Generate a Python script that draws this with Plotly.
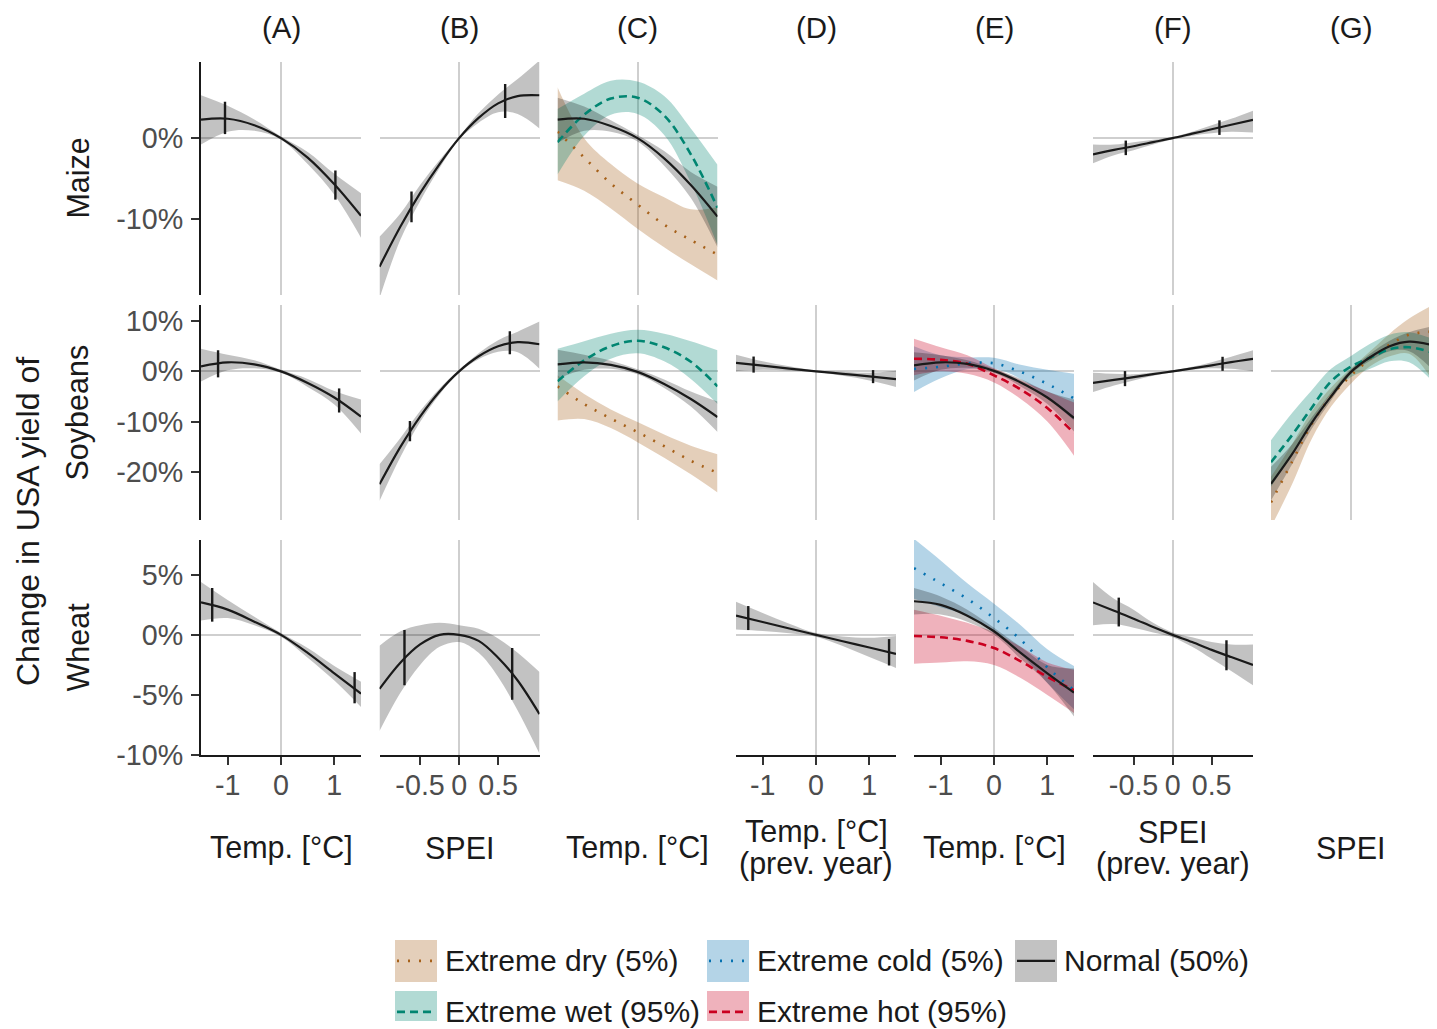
import plotly.graph_objects as go

# page: body keeps its default 8px margin; the captured page is 1437 wide and
# 1045 tall (rendered into a 1029-tall picture), so vertical page coords are scaled.
PAGE_OFF = 8
YS = 1045.0 / 1029.0
W, H = 1421, 1029

# ---------------- data ----------------
TEMP_X = [-1.5, -1.0, -0.5, 0.0, 0.5, 1.0, 1.5]
SPEI_X = [-1.02, -0.75, -0.5, -0.25, 0.0, 0.25, 0.5, 0.75, 1.03]

col_strip = ["(A)", "(B)", "(C)", "(D)", "(E)", "(F)", "(G)"]
col_titles = [["Temp. [°C]"], ["SPEI"], ["Temp. [°C]"], ["Temp. [°C]", "(prev. year)"],
              ["Temp. [°C]"], ["SPEI", "(prev. year)"], ["SPEI"]]
col_kind = ["temp", "spei", "temp", "temp", "temp", "spei", "spei"]
row_labels = ["Maize", "Soybeans", "Wheat"]

y_ranges = [[-19.4, 9.4], [-29.6, 13.2], [-10.0, 7.9]]
y_tickvals = [[0, -10], [10, 0, -10, -20], [5, 0, -5, -10]]
y_ticktext = [["0%", "-10%"], ["10%", "0%", "-10%", "-20%"], ["5%", "0%", "-5%", "-10%"]]
temp_range = [-1.5, 1.5]
spei_range = [-1.02, 1.03]
temp_ticks = [-1, 0, 1]
temp_ticktext = ["-1", "0", "1"]
spei_ticks = [-0.5, 0, 0.5]
spei_ticktext = ["-0.5", "0", "0.5"]

legend_labels = ["Extreme dry (5%)", "Extreme cold (5%)", "Normal (50%)",
                 "Extreme wet (95%)", "Extreme hot (95%)"]
legend_keys = ["dry", "cold", "normal", "wet", "hot"]

# Maize
maize_A_normal = [2.3, 2.4, 1.6, 0.0, -2.4, -5.7, -9.6]
maize_A_lo = [-0.8, 0.8, 0.9, -0.2, -3.2, -7.0, -12.3]
maize_A_hi = [5.3, 4.0, 2.3, 0.2, -1.7, -4.4, -6.8]
maize_A_mark_x = [-1.05, 1.02]
maize_A_mark_y = [2.5, -5.8]
maize_A_mark_e = [2.0, 1.8]

maize_B_normal = [-15.9, -10.9, -6.8, -3.2, 0.0, 2.5, 4.3, 5.2, 5.3]
maize_B_lo = [-19.8, -12.5, -7.8, -3.7, -0.2, 1.9, 3.2, 3.0, 1.2]
maize_B_hi = [-12.2, -9.3, -5.8, -2.7, 0.2, 3.1, 5.4, 7.3, 9.6]
maize_B_mark_x = [-0.61, 0.59]
maize_B_mark_y = [-8.5, 4.6]
maize_B_mark_e = [1.9, 2.1]

maize_C_normal = [2.3, 2.4, 1.5, 0.0, -2.5, -5.8, -9.7]
maize_C_normal_lo = [-0.6, 0.9, 0.8, -0.4, -3.4, -7.4, -13.5]
maize_C_normal_hi = [5.0, 3.9, 2.2, 0.4, -1.6, -4.2, -6.0]
maize_C_wet = [-0.5, 2.9, 4.9, 5.0, 2.8, -2.0, -8.6]
maize_C_wet_lo = [-4.5, 0.3, 2.9, 3.0, 0.4, -5.5, -13.2]
maize_C_wet_hi = [3.6, 5.5, 7.1, 7.0, 5.2, 1.2, -3.3]
maize_C_dry = [0.8, -2.4, -5.6, -8.2, -10.7, -12.6, -14.4]
maize_C_dry_lo = [-5.2, -6.5, -8.7, -11.2, -13.5, -15.6, -17.6]
maize_C_dry_hi = [6.3, 0.0, -3.2, -5.6, -7.3, -8.8, -8.5]

maize_F_normal = [-2.0, -1.45, -1.0, -0.5, 0.0, 0.55, 1.1, 1.65, 2.25]
maize_F_lo = [-3.1, -2.1, -1.5, -0.8, -0.15, 0.3, 0.6, 0.8, 0.7]
maize_F_hi = [-0.8, -0.8, -0.5, -0.2, 0.15, 0.8, 1.6, 2.4, 3.4]
maize_F_mark_x = [-0.60, 0.60]
maize_F_mark_y = [-1.2, 1.3]
maize_F_mark_e = [0.9, 0.9]

# Soybeans
soy_A_normal = [1.0, 1.8, 1.4, 0.0, -2.3, -5.2, -9.0]
soy_A_lo = [-2.0, 0.2, 0.6, -0.3, -3.1, -6.6, -12.4]
soy_A_hi = [4.5, 3.3, 2.2, 0.3, -1.5, -3.9, -5.6]
soy_A_mark_x = [-1.18, 1.09]
soy_A_mark_y = [1.5, -5.8]
soy_A_mark_e = [2.7, 2.4]

soy_B_normal = [-22.5, -15.0, -9.0, -4.0, 0.0, 3.0, 5.0, 5.8, 5.4]
soy_B_lo = [-25.8, -17.0, -10.1, -4.6, -0.3, 2.4, 3.9, 3.8, 0.5]
soy_B_hi = [-18.5, -13.2, -7.9, -3.4, 0.3, 3.6, 6.2, 7.9, 9.9]
soy_B_mark_x = [-0.63, 0.65]
soy_B_mark_y = [-11.9, 5.7]
soy_B_mark_e = [2.0, 2.3]

soy_C_normal = [1.4, 1.8, 1.3, -0.1, -2.5, -5.5, -9.1]
soy_C_normal_lo = [-1.5, 0.3, 0.5, -0.6, -3.3, -7.0, -12.1]
soy_C_normal_hi = [4.3, 3.3, 2.1, 0.4, -1.6, -4.0, -6.0]
soy_C_wet = [-2.0, 2.2, 5.0, 6.1, 4.8, 1.9, -3.0]
soy_C_wet_lo = [-6.0, -1.0, 2.5, 3.6, 2.0, -1.5, -6.5]
soy_C_wet_hi = [4.5, 6.0, 7.5, 8.3, 7.5, 6.0, 4.2]
soy_C_dry = [-3.0, -6.5, -9.4, -12.1, -14.9, -17.8, -20.2]
soy_C_dry_lo = [-9.8, -9.5, -11.3, -14.1, -17.2, -20.5, -24.1]
soy_C_dry_hi = [-0.8, -4.5, -7.6, -10.1, -12.6, -14.8, -16.5]

soy_D_normal = [1.7, 1.15, 0.55, 0.0, -0.5, -1.0, -1.55]
soy_D_lo = [0.0, 0.3, 0.1, -0.15, -0.9, -1.8, -3.1]
soy_D_hi = [3.3, 2.0, 1.0, 0.15, -0.1, -0.3, 0.1]
soy_D_mark_x = [-1.17, 1.07]
soy_D_mark_y = [1.35, -1.05]
soy_D_mark_e = [1.6, 1.3]

soy_E_normal = [1.2, 1.8, 1.5, 0.1, -2.2, -5.2, -9.3]
soy_E_normal_lo = [-1.8, 0.3, 0.7, -0.3, -3.0, -6.5, -12.0]
soy_E_normal_hi = [3.8, 3.2, 2.2, 0.5, -1.5, -4.0, -5.6]
soy_E_cold = [0.5, 0.9, 1.6, 1.6, -0.1, -2.5, -5.4]
soy_E_cold_lo = [-4.1, -1.4, 0.4, 0.5, -1.5, -5.3, -9.8]
soy_E_cold_hi = [5.0, 3.2, 2.8, 2.7, 1.3, 0.3, -0.5]
soy_E_hot = [2.5, 2.3, 1.5, -0.8, -3.6, -7.3, -12.3]
soy_E_hot_lo = [-0.8, 0.0, -0.5, -2.2, -5.5, -10.0, -16.8]
soy_E_hot_hi = [6.5, 4.8, 3.2, 0.6, -1.8, -4.0, -6.2]

soy_F_normal = [-2.3, -1.7, -1.15, -0.55, 0.0, 0.6, 1.2, 1.85, 2.5]
soy_F_lo = [-4.1, -2.8, -1.8, -0.9, -0.2, 0.3, 0.6, 0.5, 0.0]
soy_F_hi = [-0.3, -0.5, -0.6, -0.25, 0.2, 0.9, 1.8, 2.9, 4.2]
soy_F_mark_x = [-0.61, 0.64]
soy_F_mark_y = [-1.45, 1.5]
soy_F_mark_e = [1.5, 1.4]

soy_G_normal = [-22.4, -16.5, -10.3, -5.0, -0.2, 2.8, 5.0, 5.9, 5.3]
soy_G_normal_lo = [-25.7, -18.5, -11.5, -5.8, -0.6, 2.1, 4.0, 4.0, 0.6]
soy_G_normal_hi = [-19.0, -14.5, -9.2, -4.2, 0.3, 3.5, 6.1, 7.8, 8.9]
soy_G_wet = [-18.1, -12.7, -7.3, -2.0, 0.9, 2.7, 4.4, 4.8, 3.8]
soy_G_wet_lo = [-23.0, -16.5, -10.2, -4.5, -1.2, 0.5, 2.0, 1.8, -1.7]
soy_G_wet_hi = [-13.7, -8.3, -3.8, 0.5, 3.0, 5.5, 7.3, 7.8, 6.6]
soy_G_dry = [-26.1, -18.0, -10.5, -5.0, -0.9, 2.5, 5.3, 7.3, 7.9]
soy_G_dry_lo = [-31.0, -22.5, -13.5, -7.0, -2.5, 1.0, 3.0, 3.5, -1.4]
soy_G_dry_hi = [-21.0, -14.5, -8.0, -3.2, 0.5, 4.0, 7.5, 10.5, 13.0]

# Wheat
wheat_A_normal = [2.7, 2.1, 1.1, 0.0, -1.5, -3.2, -4.9]
wheat_A_lo = [1.2, 1.4, 0.8, -0.15, -1.9, -3.8, -6.0]
wheat_A_hi = [4.4, 2.9, 1.5, 0.15, -1.1, -2.6, -3.9]
wheat_A_mark_x = [-1.29, 1.38]
wheat_A_mark_y = [2.5, -4.4]
wheat_A_mark_e = [1.4, 1.3]

wheat_B_normal = [-4.5, -2.3, -0.8, 0.0, 0.0, -0.5, -1.9, -3.8, -6.6]
wheat_B_lo = [-8.0, -4.8, -2.5, -1.0, -0.6, -1.5, -3.5, -6.3, -9.9]
wheat_B_hi = [-0.9, 0.3, 0.8, 1.0, 0.8, 0.5, -0.3, -1.5, -3.1]
wheat_B_mark_x = [-0.70, 0.68]
wheat_B_mark_y = [-1.9, -3.25]
wheat_B_mark_e = [2.3, 2.15]

wheat_D_normal = [1.6, 1.07, 0.53, 0.0, -0.53, -1.05, -1.58]
wheat_D_lo = [0.45, 0.32, 0.13, -0.15, -0.93, -1.85, -2.75]
wheat_D_hi = [2.75, 1.82, 0.93, 0.15, -0.13, -0.25, -0.1]
wheat_D_mark_x = [-1.27, 1.37]
wheat_D_mark_y = [1.4, -1.45]
wheat_D_mark_e = [1.0, 1.1]

wheat_E_normal = [2.8, 2.5, 1.6, 0.3, -1.5, -3.2, -4.8]
wheat_E_normal_lo = [1.7, 1.7, 1.1, 0.0, -2.0, -4.0, -6.8]
wheat_E_normal_hi = [3.9, 3.2, 2.1, 0.6, -1.0, -2.5, -2.8]
wheat_E_cold = [5.55, 4.3, 3.0, 1.4, -0.4, -2.7, -4.6]
wheat_E_cold_lo = [3.0, 2.3, 1.6, 0.2, -1.6, -4.0, -6.2]
wheat_E_cold_hi = [8.0, 6.2, 4.3, 2.6, 0.8, -1.2, -2.6]
wheat_E_hot = [-0.1, -0.2, -0.5, -1.1, -2.2, -3.5, -4.6]
wheat_E_hot_lo = [-2.4, -2.3, -2.2, -2.5, -3.6, -5.0, -6.5]
wheat_E_hot_hi = [2.1, 1.6, 1.0, 0.2, -1.0, -2.3, -2.9]

wheat_F_normal = [2.7, 2.0, 1.35, 0.65, 0.0, -0.6, -1.25, -1.85, -2.5]
wheat_F_lo = [0.8, 0.9, 0.6, 0.2, -0.2, -1.0, -2.0, -3.0, -4.2]
wheat_F_hi = [4.4, 3.0, 2.1, 1.0, 0.2, -0.2, -0.6, -0.8, -0.8]
wheat_F_mark_x = [-0.69, 0.69]
wheat_F_mark_y = [1.9, -1.7]
wheat_F_mark_e = [1.2, 1.25]

# ---------------- styles ----------------
STYLE = {
    "normal": dict(color="#1a1a1a", dash="solid", fill="rgba(0,0,0,0.24)", width=2.2),
    "dry": dict(color="#a6611a", dash="2px,9px", fill="rgba(166,97,26,0.30)", width=2.6),
    "wet": dict(color="#018571", dash="8px,5px", fill="rgba(1,133,113,0.30)", width=2.6),
    "cold": dict(color="#0571b0", dash="2px,9px", fill="rgba(5,113,176,0.30)", width=2.6),
    "hot": dict(color="#ca0020", dash="8px,5px", fill="rgba(202,0,32,0.30)", width=2.6),
}

PANELS = {
    (0, 0): [("normal", maize_A_normal, maize_A_lo, maize_A_hi)],
    (0, 1): [("normal", maize_B_normal, maize_B_lo, maize_B_hi)],
    (0, 2): [("dry", maize_C_dry, maize_C_dry_lo, maize_C_dry_hi),
             ("wet", maize_C_wet, maize_C_wet_lo, maize_C_wet_hi),
             ("normal", maize_C_normal, maize_C_normal_lo, maize_C_normal_hi)],
    (0, 5): [("normal", maize_F_normal, maize_F_lo, maize_F_hi)],
    (1, 0): [("normal", soy_A_normal, soy_A_lo, soy_A_hi)],
    (1, 1): [("normal", soy_B_normal, soy_B_lo, soy_B_hi)],
    (1, 2): [("dry", soy_C_dry, soy_C_dry_lo, soy_C_dry_hi),
             ("wet", soy_C_wet, soy_C_wet_lo, soy_C_wet_hi),
             ("normal", soy_C_normal, soy_C_normal_lo, soy_C_normal_hi)],
    (1, 3): [("normal", soy_D_normal, soy_D_lo, soy_D_hi)],
    (1, 4): [("cold", soy_E_cold, soy_E_cold_lo, soy_E_cold_hi),
             ("hot", soy_E_hot, soy_E_hot_lo, soy_E_hot_hi),
             ("normal", soy_E_normal, soy_E_normal_lo, soy_E_normal_hi)],
    (1, 5): [("normal", soy_F_normal, soy_F_lo, soy_F_hi)],
    (1, 6): [("dry", soy_G_dry, soy_G_dry_lo, soy_G_dry_hi),
             ("wet", soy_G_wet, soy_G_wet_lo, soy_G_wet_hi),
             ("normal", soy_G_normal, soy_G_normal_lo, soy_G_normal_hi)],
    (2, 0): [("normal", wheat_A_normal, wheat_A_lo, wheat_A_hi)],
    (2, 1): [("normal", wheat_B_normal, wheat_B_lo, wheat_B_hi)],
    (2, 3): [("normal", wheat_D_normal, wheat_D_lo, wheat_D_hi)],
    (2, 4): [("cold", wheat_E_cold, wheat_E_cold_lo, wheat_E_cold_hi),
             ("hot", wheat_E_hot, wheat_E_hot_lo, wheat_E_hot_hi),
             ("normal", wheat_E_normal, wheat_E_normal_lo, wheat_E_normal_hi)],
    (2, 5): [("normal", wheat_F_normal, wheat_F_lo, wheat_F_hi)],
}

MARKS = {
    (0, 0): (maize_A_mark_x, maize_A_mark_y, maize_A_mark_e),
    (0, 1): (maize_B_mark_x, maize_B_mark_y, maize_B_mark_e),
    (0, 5): (maize_F_mark_x, maize_F_mark_y, maize_F_mark_e),
    (1, 0): (soy_A_mark_x, soy_A_mark_y, soy_A_mark_e),
    (1, 1): (soy_B_mark_x, soy_B_mark_y, soy_B_mark_e),
    (1, 3): (soy_D_mark_x, soy_D_mark_y, soy_D_mark_e),
    (1, 5): (soy_F_mark_x, soy_F_mark_y, soy_F_mark_e),
    (2, 0): (wheat_A_mark_x, wheat_A_mark_y, wheat_A_mark_e),
    (2, 1): (wheat_B_mark_x, wheat_B_mark_y, wheat_B_mark_e),
    (2, 3): (wheat_D_mark_x, wheat_D_mark_y, wheat_D_mark_e),
    (2, 5): (wheat_F_mark_x, wheat_F_mark_y, wheat_F_mark_e),
}

# ---------------- layout geometry (picture pixels) ----------------
col_left = [201, 379.5, 557.5, 736, 914, 1093, 1271]
col_right = [361, 539.5, 717.5, 896, 1074, 1253, 1429]
row_box = [(62, 295), (305, 520), (540, 755)]

FONT = "Liberation Sans, Arial, sans-serif"
TICK_FONT = dict(family=FONT, size=28.7, color="#4d4d4d")
TXT = "#1a1a1a"


def px_x(p):
    return min(1.0, max(0.0, (p - PAGE_OFF) / W))


def px_y(p):
    return min(1.0, max(0.0, 1 - (p * YS - PAGE_OFF) / H))


fig = go.Figure()
layout = {}

for r in range(3):
    for c in range(7):
        k = r * 7 + c + 1
        xa = "x" if k == 1 else f"x{k}"
        ya = "y" if k == 1 else f"y{k}"
        kind = col_kind[c]
        xs = TEMP_X if kind == "temp" else SPEI_X
        top, bot = row_box[r]
        if kind == "temp":
            xr = temp_range
        else:
            xr = [spei_range[0], spei_range[0] + (spei_range[1] - spei_range[0]) *
                  (col_right[c] - col_left[c]) / 160.0]
        layout["xaxis" if k == 1 else f"xaxis{k}"] = dict(
            domain=[px_x(col_left[c]), px_x(col_right[c])],
            range=xr,
            anchor=ya, showgrid=False, zeroline=True, zerolinecolor="#cfcfcf", zerolinewidth=2,
            showline=(r == 2), linecolor="#1a1a1a", linewidth=2.2,
            ticks="outside" if r == 2 else "", ticklen=8, tickwidth=2, tickcolor="#333333",
            showticklabels=(r == 2),
            tickvals=temp_ticks if kind == "temp" else spei_ticks,
            ticktext=temp_ticktext if kind == "temp" else spei_ticktext,
            tickfont=TICK_FONT, ticklabelstandoff=-4, fixedrange=True,
        )
        layout["yaxis" if k == 1 else f"yaxis{k}"] = dict(
            domain=[px_y(bot), px_y(top)], range=y_ranges[r], anchor=xa,
            showgrid=False, zeroline=True, zerolinecolor="#cfcfcf", zerolinewidth=2,
            showline=(c == 0), linecolor="#1a1a1a", linewidth=2.2,
            ticks="outside" if c == 0 else "", ticklen=8, tickwidth=2, tickcolor="#333333",
            showticklabels=(c == 0), tickvals=y_tickvals[r], ticktext=y_ticktext[r],
            tickfont=TICK_FONT, ticklabelstandoff=2, fixedrange=True,
        )
        series = PANELS.get((r, c), [])
        for name, yv, lo, hi in series:
            st = STYLE[name]
            fig.add_trace(go.Scatter(x=xs, y=lo, mode="lines", line=dict(width=0, shape="spline"),
                                     xaxis=xa, yaxis=ya, showlegend=False, hoverinfo="skip"))
            fig.add_trace(go.Scatter(x=xs, y=hi, mode="lines", line=dict(width=0, shape="spline"),
                                     fill="tonexty", fillcolor=st["fill"],
                                     xaxis=xa, yaxis=ya, showlegend=False, hoverinfo="skip"))
        for name, yv, lo, hi in series:
            st = STYLE[name]
            fig.add_trace(go.Scatter(x=xs, y=yv, mode="lines",
                                     line=dict(color=st["color"], width=st["width"], dash=st["dash"],
                                               shape="spline"),
                                     xaxis=xa, yaxis=ya, showlegend=False, name=name))
        if (r, c) in MARKS:
            mx, my, me = MARKS[(r, c)]
            fig.add_trace(go.Scatter(x=mx, y=my, mode="markers",
                                     marker=dict(size=2, color="rgba(0,0,0,0)"),
                                     error_y=dict(type="data", array=me, symmetric=True, width=0,
                                                  thickness=2.4, color="#1a1a1a"),
                                     xaxis=xa, yaxis=ya, showlegend=False, hoverinfo="skip"))

annotations = []
for c in range(7):
    cx = px_x(col_left[c] + 80)
    annotations.append(dict(text=col_strip[c], x=cx, y=px_y(27), xref="paper", yref="paper",
                            showarrow=False, xanchor="center", yanchor="middle",
                            font=dict(family=FONT, size=29.5, color=TXT)))
    lines = col_titles[c]
    if len(lines) == 1:
        annotations.append(dict(text=lines[0], x=cx, y=px_y(848), xref="paper", yref="paper",
                                showarrow=False, xanchor="center", yanchor="middle",
                                font=dict(family=FONT, size=30.5, color=TXT)))
    else:
        for i, ln in enumerate(lines):
            annotations.append(dict(text=ln, x=cx, y=px_y(832 + 32 * i), xref="paper", yref="paper",
                                    showarrow=False, xanchor="center", yanchor="middle",
                                    font=dict(family=FONT, size=30.5, color=TXT)))

for r in range(3):
    top, bot = row_box[r]
    annotations.append(dict(text=row_labels[r], x=px_x(78), y=px_y((top + bot) / 2),
                            xref="paper", yref="paper", showarrow=False, textangle=-90,
                            xanchor="center", yanchor="middle",
                            font=dict(family=FONT, size=30.5, color=TXT)))

annotations.append(dict(text="Change in USA yield of", x=px_x(28), y=px_y(522), xref="paper",
                        yref="paper", showarrow=False, textangle=-90, xanchor="center",
                        yanchor="middle", font=dict(family=FONT, size=32, color=TXT)))

# legend (drawn manually)
shapes = []
key_pos = [(395, 961, 443), (707, 961, 755), (1015, 961, 1062), (395, 1012, 443), (707, 1012, 755)]
for (kx, ky, tx), lab, key in zip(key_pos, legend_labels, legend_keys):
    st = STYLE[key]
    shapes.append(dict(type="rect", xref="paper", yref="paper", x0=px_x(kx), x1=px_x(kx + 42),
                       y0=px_y(ky + 21), y1=px_y(ky - 21), fillcolor=st["fill"],
                       line=dict(width=0), layer="above"))
    shapes.append(dict(type="line", xref="paper", yref="paper", x0=px_x(kx + 2), x1=px_x(kx + 40),
                       y0=px_y(ky), y1=px_y(ky),
                       line=dict(color=st["color"], width=st["width"], dash=st["dash"]), layer="above"))
    annotations.append(dict(text=lab, x=px_x(tx), y=px_y(ky), xref="paper", yref="paper",
                            showarrow=False, xanchor="left", yanchor="middle",
                            font=dict(family=FONT, size=30, color=TXT)))

fig.update_layout(**layout)
fig.update_layout(width=W, height=H, margin=dict(l=0, r=0, t=0, b=0),
                  plot_bgcolor="white", paper_bgcolor="white", showlegend=False,
                  annotations=annotations, shapes=shapes,
                  font=dict(family=FONT, color=TXT))

fig.write_html("out.html", config={"displayModeBar": False})
